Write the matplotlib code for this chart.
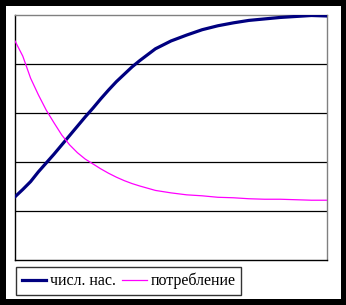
import matplotlib
matplotlib.use("Agg")
import matplotlib.pyplot as plt
from matplotlib.patches import Rectangle

# значения
t = [0, 2.5, 5, 7.5, 10, 12.5, 15, 17.5, 20, 22.5, 25, 27.5, 30, 32.5, 35, 37.5, 40,
     45, 50, 55, 60, 65, 70, 75, 80, 85, 90, 95, 100]
pop = [1.29, 1.44, 1.60, 1.80, 1.98, 2.16, 2.35, 2.54, 2.73, 2.92, 3.10, 3.29, 3.47,
       3.64, 3.79, 3.94, 4.07, 4.31, 4.47, 4.59, 4.70, 4.78, 4.84, 4.89, 4.92, 4.95,
       4.97, 4.99, 4.98]
cons = [4.47, 4.16, 3.71, 3.37, 3.06, 2.80, 2.55, 2.35, 2.19, 2.06, 1.96, 1.86, 1.77,
        1.69, 1.62, 1.56, 1.51, 1.42, 1.37, 1.33, 1.31, 1.28, 1.27, 1.25, 1.24, 1.24,
        1.23, 1.22, 1.22]
labels = ["числ. нас.", "потребление"]
grid_levels = [1, 2, 3, 4]

W, H = 346, 305
fig = plt.figure(figsize=(W / 100, H / 100), dpi=100, facecolor="black")
fig.add_artist(Rectangle((6 / W, 6 / H), 335 / W, 293 / H,
                         transform=fig.transFigure, facecolor="white",
                         edgecolor="none", zorder=-10))

ax = fig.add_axes([15 / W, 1 - 260 / H, 312 / W, 245 / H])
ax.set_zorder(1)
ax.set_facecolor("white")
for g in grid_levels:
    ax.axhline(g, color="black", lw=0.9, zorder=1)

ax.plot(t, pop, color="#000080", lw=2.3, label=labels[0], zorder=3)
ax.plot(t, cons, color="#ff00ff", lw=0.9, label=labels[1], zorder=3)

ax.set_xlim(0, 100)
ax.set_ylim(0, 5)
ax.set_xticks([])
ax.set_yticks([])
ax.spines["left"].set_color("black")
ax.spines["bottom"].set_color("black")
ax.spines["top"].set_color("#808080")
ax.spines["right"].set_color("#808080")
for s in ax.spines.values():
    s.set_linewidth(1.0)

leg = fig.legend(loc="lower left", bbox_to_anchor=(16 / W, 10 / H, 225 / W, 26 / H),
                 ncol=2, frameon=True, fancybox=False, borderaxespad=0,
                 prop={"family": "Liberation Serif", "size": 11.5},
                 handlelength=1.55, handletextpad=0.2, columnspacing=0.5,
                 borderpad=0.35, mode="expand")
leg.set_zorder(2)
leg.get_frame().set_edgecolor("black")
leg.get_frame().set_linewidth(1.0)

fig.savefig("out.png", dpi=100, facecolor="black")
